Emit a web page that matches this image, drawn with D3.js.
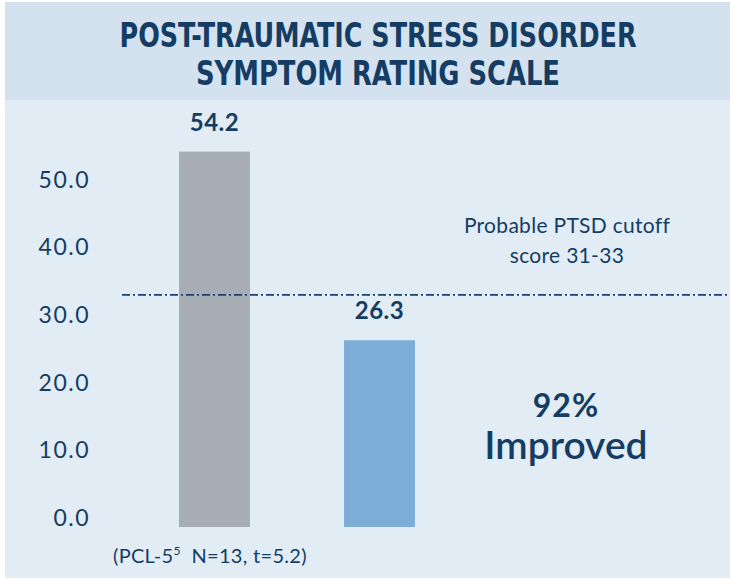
<!DOCTYPE html>
<html>
<head>
<meta charset="utf-8">
<script src="https://cdn.jsdelivr.net/npm/d3@7"></script>
<style>
  body { margin: 0; background: #fff; }
  svg text { fill: #153d63; }
</style>
</head>
<body>
<svg id="chart"></svg>
<script>
// data
const titleLines = ['POST-TRAUMATIC STRESS DISORDER', 'SYMPTOM RATING SCALE']
const titleWidths = [517, 364]
const categories = ['Before', 'After']
const values = [54.2, 26.3]
const barColors = ['#a6adb5', '#7cadd6']
const yTicks = [0, 10, 20, 30, 40, 50]
const cutoff = 33
const cutoffLabel = ['Probable PTSD cutoff', 'score 31-33']
const improvedLabel = ['92%', 'Improved']

const width = 730
const height = 579

let svg = d3.select('#chart').attr('width', width).attr('height', height)

// panel + header band
svg.append('rect').attr('x', 5).attr('y', 2).attr('width', width - 5).attr('height', 576).attr('fill', '#e1ecf5')
svg.append('rect').attr('x', 5).attr('y', 2).attr('width', width - 5).attr('height', 98).attr('fill', '#d4e2ef')

svg.append('g').selectAll('text')
    .data(titleLines)
    .enter().append('text')
    .attr('x', 378)
    .attr('y', (d, i) => 47 + i * 38)
    .attr('text-anchor', 'middle')
    .attr('textLength', (d, i) => titleWidths[i])
    .attr('lengthAdjust', 'spacingAndGlyphs')
    .style('font-family', '"Liberation Sans Narrow", "DejaVu Sans Condensed", sans-serif')
    .style('font-weight', 'bold')
    .style('font-size', '33px')
    .text(d => d)

// scales
let x = d3.scaleBand().domain(categories).range([179, 415]).paddingInner(0.57).paddingOuter(0)
let y = d3.scaleLinear().domain([0, 50]).range([518, 180])
const barDrop = 9 // bars run a little below the zero line

let yAxis = d3.axisLeft(y).tickValues(yTicks).tickFormat(d3.format('.1f')).tickSize(0).tickPadding(0)
let axisG = svg.append('g').attr('transform', 'translate(90,0)').call(yAxis)
axisG.select('.domain').remove()
axisG.selectAll('text')
    .style('font-family', 'Lato, sans-serif')
    .style('font-size', '23px')
    .style('letter-spacing', '1.5px')
    .attr('fill', '#153d63')

// bars
svg.append('g').selectAll('rect')
    .data(values)
    .enter().append('rect')
    .attr('x', (d, i) => x(categories[i]))
    .attr('width', x.bandwidth())
    .attr('y', d => y(d))
    .attr('height', d => y(0) - y(d) + barDrop)
    .attr('fill', (d, i) => barColors[i])

svg.append('g').selectAll('text')
    .data(values)
    .enter().append('text')
    .attr('x', (d, i) => x(categories[i]) + x.bandwidth() / 2)
    .attr('y', d => y(d) - 21)
    .attr('text-anchor', 'middle')
    .style('font-family', 'Lato, sans-serif')
    .style('font-weight', 'bold')
    .style('font-size', '24px')
    .style('letter-spacing', '0.5px')
    .text(d => d3.format('.1f')(d))

// cutoff line (dash-dot)
svg.append('line')
    .attr('x1', 122).attr('x2', width)
    .attr('y1', y(cutoff)).attr('y2', y(cutoff))
    .attr('stroke', '#1b426a')
    .attr('stroke-width', 1.6)
    .attr('stroke-dasharray', '8,3,2,3')

svg.append('g').selectAll('text')
    .data(cutoffLabel)
    .enter().append('text')
    .attr('x', 567)
    .attr('y', (d, i) => 233 + i * 30)
    .attr('text-anchor', 'middle')
    .style('font-family', 'Lato, sans-serif')
    .style('font-size', '21px')
    .style('letter-spacing', '0.3px')
    .text(d => d)

// improvement callout
svg.append('text')
    .attr('x', 566).attr('y', 417)
    .attr('text-anchor', 'middle')
    .style('font-family', 'Lato, sans-serif')
    .style('font-weight', 'bold')
    .style('font-size', '32px')
    .style('letter-spacing', '1px')
    .text(improvedLabel[0])
svg.append('text')
    .attr('x', 566).attr('y', 459)
    .attr('text-anchor', 'middle')
    .style('font-family', 'Lato, sans-serif')
    .style('font-weight', '600')
    .style('font-size', '39px')
    .text(improvedLabel[1])

// footnote
let note = svg.append('text')
    .attr('x', 113).attr('y', 563)
    .style('font-family', 'Lato, sans-serif')
    .style('font-size', '20px')
    .style('letter-spacing', '0.3px')
note.append('tspan').text('(PCL-5')
note.append('tspan').attr('dy', -8).style('font-size', '12px').text('5')
note.append('tspan').attr('dy', 8).text('\u00a0 N=13, t=5.2)')
</script>
</body>
</html>
